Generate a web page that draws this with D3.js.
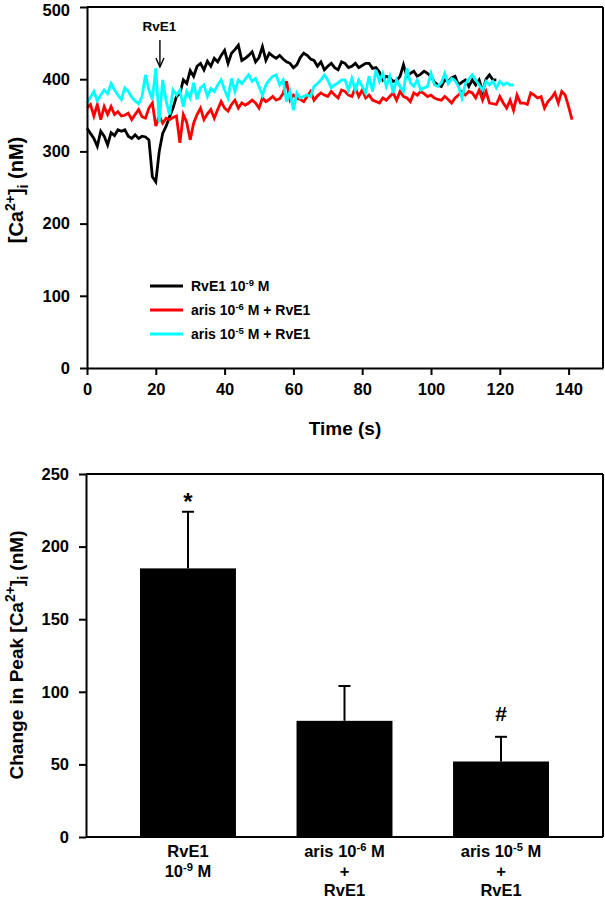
<!DOCTYPE html>
<html><head><meta charset="utf-8">
<script src="https://cdn.jsdelivr.net/npm/d3@7"></script>
<style>
body{margin:0;background:#fff}
text{font-family:"Liberation Sans",Arial,sans-serif;font-weight:bold;fill:#000}
</style>
</head><body>
<svg id="c" width="605" height="900"></svg>
<script>
// ---------- DATA ----------
const timeStep = 1; // seconds between samples
const rve1Vals = [332,325,318,307,328,321,309,326,322,330,328,330,321,318,323,318,321,320,316,265,
  258,300,325,335,348,360,376,380,399,394,412,404,418,422,413,425,418,429,424,433,
  440,422,436,441,447,426,429,433,438,424,430,445,426,436,432,429,433,428,424,422,
  416,420,430,436,433,428,426,418,424,413,418,422,416,413,424,422,416,418,422,416,
  419,422,422,415,416,410,399,404,402,397,398,404,420,404,408,411,404,407,411,408,
  404,396,392,390,399,397,402,404,392,396,399,390,399,392,399,383,400,406,399,399];
const aris6Vals = [360,365,349,365,344,362,351,362,351,355,349,350,353,344,351,358,348,346,360,367,
  335,349,339,346,344,347,349,312,351,340,316,339,351,360,344,352,358,346,358,369,
  360,356,365,371,360,367,364,367,371,367,360,374,369,372,376,371,373,380,397,371,
  378,374,372,369,376,383,371,377,381,378,376,383,378,374,385,383,378,376,388,376,
  385,374,378,371,369,367,374,371,376,381,371,383,376,374,369,381,378,383,380,376,
  378,374,372,371,376,372,367,374,378,383,378,383,381,374,385,371,383,367,366,365,
  376,367,360,371,357,378,367,367,365,381,378,374,376,360,369,374,381,367,383,378,
  362,344];
const aris5Vals = [367,375,383,370,378,385,380,394,385,378,372,388,383,375,370,366,376,406,385,372,
  415,341,399,370,351,385,378,385,362,383,374,395,372,388,392,376,387,383,392,399,
  385,374,401,383,399,394,400,406,397,401,390,378,392,399,404,406,392,399,369,383,
  357,381,374,376,378,376,390,394,399,406,399,388,392,395,399,399,385,401,385,399,
  390,381,404,383,413,397,408,390,404,381,399,390,383,415,395,390,399,385,388,390,
  408,392,390,395,408,394,401,398,390,374,394,400,406,399,392,385,397,392,397,388,
  397,392,395,392,392];
const seriesNames = ["RvE1 10|-9| M", "aris 10|-6| M + RvE1", "aris 10|-5| M + RvE1"];
const seriesColors = ["#000000", "#ff0000", "#00ffff"];
const timeTicks = [0,20,40,60,80,100,120,140];
const caTicks = [0,100,200,300,400,500];
const arrowTime = 21.2;

const barCats = [["RvE1","10|-9| M"],["aris 10|-6| M","+","RvE1"],["aris 10|-5| M","+","RvE1"]];
const barMeans = [185, 80, 52];
const barErrs = [39, 24, 17];
const barMarks = ["*", "", "#"];
const peakTicks = [0,50,100,150,200,250];

// ---------- HELPERS ----------
const svg = d3.select("#c");
function richText(sel, str, fs, supShift){
  const parts = str.split("|");
  parts.forEach((p,i)=>{
    if(i%2===1){
      sel.append("tspan").attr("dy",-supShift).attr("font-size",fs*0.68).text(p);
    } else {
      sel.append("tspan").attr("dy", i===0?0:supShift).text(p);
    }
  });
}
function caLabel(sel, prefix){
  sel.append("tspan").text(prefix + "[Ca");
  sel.append("tspan").attr("dy",-8).attr("font-size",14).text("2+");
  sel.append("tspan").attr("dy",8).text("]");
  sel.append("tspan").attr("dy",5).attr("font-size",14).text("i");
  sel.append("tspan").attr("dy",-5).text(" (nM)");
}

// ---------- TOP CHART ----------
const x = d3.scaleLinear().domain([0,150]).range([87,603]);
const y = d3.scaleLinear().domain([0,500]).range([368,7]);
const gTop = svg.append("g");

const seriesVals = [rve1Vals, aris6Vals, aris5Vals];
const line = d3.line().x((d,i)=>x(i*timeStep)).y(d=>y(d));
seriesVals.forEach((vals,k)=>{
  gTop.append("path").datum(vals).attr("d",line)
    .attr("fill","none").attr("stroke",seriesColors[k]).attr("stroke-width",2.8)
    .attr("stroke-linejoin","miter");
});

gTop.append("line").attr("x1",x(0)).attr("x2",x(150)).attr("y1",y(500)).attr("y2",y(500)).attr("stroke","#000").attr("stroke-width",2);
gTop.append("line").attr("x1",x(150)).attr("x2",x(150)).attr("y1",y(500)).attr("y2",y(0)).attr("stroke","#000").attr("stroke-width",2);

const ya = gTop.append("g").attr("transform",`translate(${x(0)},0)`)
  .call(d3.axisLeft(y).tickValues(caTicks).tickSize(7).tickSizeOuter(0).tickPadding(10));
const xa = gTop.append("g").attr("transform",`translate(0,${y(0)})`)
  .call(d3.axisBottom(x).tickValues(timeTicks).tickSize(7).tickSizeOuter(0).tickPadding(8));
[ya,xa].forEach(a=>{
  a.select(".domain").attr("stroke-width",2);
  a.selectAll(".tick line").attr("stroke-width",2);
  a.selectAll(".tick text").attr("font-size",16.5).attr("font-family","Liberation Sans, Arial, sans-serif").attr("font-weight","bold");
});
ya.selectAll(".tick text").filter(d=>d===500).attr("dy","0.5em");

gTop.append("text").attr("x",345).attr("y",435).attr("text-anchor","middle").attr("font-size",19).text("Time (s)");

const yl = gTop.append("text").attr("transform","translate(23,190) rotate(-90)").attr("text-anchor","middle").attr("font-size",20);
caLabel(yl, "");

gTop.append("text").attr("x",x(arrowTime)-0.5).attr("y",31).attr("text-anchor","middle").attr("font-size",13.5).text("RvE1");
gTop.append("line").attr("x1",x(arrowTime)).attr("x2",x(arrowTime)).attr("y1",40).attr("y2",66).attr("stroke","#000").attr("stroke-width",1.4);
gTop.append("path").attr("d",`M${x(arrowTime)-4},58 L${x(arrowTime)},67 L${x(arrowTime)+4},58`).attr("fill","none").attr("stroke","#000").attr("stroke-width",1.4);

seriesNames.forEach((nm,k)=>{
  const ly = 286 + k*24;
  gTop.append("line").attr("x1",150).attr("x2",183).attr("y1",ly).attr("y2",ly).attr("stroke",seriesColors[k]).attr("stroke-width",2.8);
  const t = gTop.append("text").attr("x",191).attr("y",ly+5).attr("font-size",14);
  richText(t, nm, 14, 5);
});

// ---------- BOTTOM CHART ----------
const bx = d3.scaleBand().domain(barCats.map((d,i)=>i)).range([86,603]).paddingInner(0.387).paddingOuter(0.345);
const by = d3.scaleLinear().domain([0,250]).range([837,474]);
const gBot = svg.append("g");

gBot.selectAll("rect.bar").data(barMeans).join("rect").attr("class","bar")
  .attr("x",(d,i)=>bx(i)).attr("width",bx.bandwidth())
  .attr("y",d=>by(d)).attr("height",d=>by(0)-by(d)).attr("fill","#000");

barMeans.forEach((m,i)=>{
  const cx = bx(i)+bx.bandwidth()/2;
  gBot.append("line").attr("x1",cx).attr("x2",cx).attr("y1",by(m)).attr("y2",by(m+barErrs[i])).attr("stroke","#000").attr("stroke-width",2);
  gBot.append("line").attr("x1",cx-6).attr("x2",cx+6).attr("y1",by(m+barErrs[i])).attr("y2",by(m+barErrs[i])).attr("stroke","#000").attr("stroke-width",2);
  if(barMarks[i]){
    gBot.append("text").attr("x",cx).attr("y",by(m+barErrs[i])-(barMarks[i]==="*"?2:16)).attr("text-anchor","middle")
      .attr("font-size",barMarks[i]==="*"?24:21).text(barMarks[i]);
  }
  barCats[i].forEach((ln,j)=>{
    const t = gBot.append("text").attr("x",cx).attr("y",857+j*19.5).attr("text-anchor","middle").attr("font-size",16.5);
    richText(t, ln, 16.5, 6);
  });
});

gBot.append("line").attr("x1",86).attr("x2",603).attr("y1",by(250)).attr("y2",by(250)).attr("stroke","#000").attr("stroke-width",2);
gBot.append("line").attr("x1",603).attr("x2",603).attr("y1",by(250)).attr("y2",by(0)).attr("stroke","#000").attr("stroke-width",2);
gBot.append("line").attr("x1",86).attr("x2",603).attr("y1",by(0)).attr("y2",by(0)).attr("stroke","#000").attr("stroke-width",2);

const bya = gBot.append("g").attr("transform","translate(86,0)")
  .call(d3.axisLeft(by).tickValues(peakTicks).tickSize(7).tickSizeOuter(0).tickPadding(10));
bya.select(".domain").attr("stroke-width",2);
bya.selectAll(".tick line").attr("stroke-width",2);
bya.selectAll(".tick text").attr("font-size",16.5).attr("font-family","Liberation Sans, Arial, sans-serif").attr("font-weight","bold");

const byl = gBot.append("text").attr("transform","translate(23,655) rotate(-90)").attr("text-anchor","middle").attr("font-size",19);
caLabel(byl, "Change in Peak ");
</script>
</body></html>
